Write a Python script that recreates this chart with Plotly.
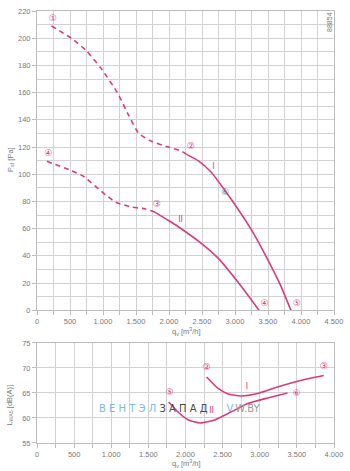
import plotly.graph_objects as go

# ---------------- data ----------------
# Top chart: pressure curves
q1_dash = [220, 520, 744, 968, 1217, 1392, 1542, 1741, 1991, 2190, 2265]
p1_dash = [209, 200, 191, 178, 160, 143, 130, 124, 120, 117, 114.6]
q1_solid = [2265, 2440, 2640, 2849, 3238, 3488, 3687, 3847]
p1_solid = [114.6, 110, 101.5, 88, 60, 38, 18.7, 0]

q2_dash = [150, 494, 693, 993, 1193, 1442, 1642, 1790]
p2_dash = [109.5, 103.2, 98.8, 86.7, 79.4, 75.8, 74.5, 72]
q2_solid = [1790, 2000, 2141, 2490, 2740, 3039, 3364]
p2_solid = [72, 65.8, 61.4, 49.2, 38.5, 21.1, 0]

# Bottom chart: sound power curves
l1_q = [2284, 2440, 2573, 2751, 2973, 3240, 3551, 3862]
l1_v = [68.2, 65.9, 64.8, 64.4, 64.9, 66.2, 67.5, 68.5]
l2_q = [1773, 1907, 2040, 2195, 2395, 2573, 2840, 3107, 3373]
l2_v = [63.2, 61.1, 59.6, 59.0, 59.6, 60.9, 62.9, 64.0, 65.0]

# Point markers (circled numbers) and curve labels
top_pts_text = ["①", "②", "③", "④", "④", "⑤"]
top_pts_q = [240, 2330, 1816, 170, 3448, 3937]
top_pts_p = [214, 120, 77.4, 115, 4.9, 4.9]
top_grey_text = ["⑥"]
top_grey_q = [2849]
top_grey_p = [86.7]
top_curve_text = ["I", "II"]
top_curve_q = [2675, 2175]
top_curve_p = [105, 66]

bot_pts_text = ["②", "③", "⑤", "⑥"]
bot_pts_q = [2284, 3862, 1786, 3497]
bot_pts_v = [70, 70.3, 65, 64.9]
bot_curve_text = ["I", "II"]
bot_curve_q = [2826, 2351]
bot_curve_v = [66.2, 61.3]

x_top_ticks = [0, 500, 1000, 1500, 2000, 2500, 3000, 3500, 4000, 4500]
x_top_labels = ["0", "500", "1.000", "1.500", "2.000", "2.500", "3.000", "3.500", "4.000", "4.500"]
x_bot_ticks = [0, 500, 1000, 1500, 2000, 2500, 3000, 3500, 4000]
x_bot_labels = ["0", "500", "1.000", "1.500", "2.000", "2.500", "3.000", "3.500", "4.000"]
y_top_ticks = list(range(0, 221, 20))
y_bot_ticks = [55, 60, 65, 70, 75]

# ---------------- style ----------------
PINK = "#db3a80"
GRID = "#d2d2d2"
TXT = "#7a7a7a"
FONT = "Liberation Sans, Arial, sans-serif"

fig = go.Figure()

def line(x, y, xa, ya, dash=None):
    fig.add_trace(go.Scatter(x=x, y=y, mode="lines", xaxis=xa, yaxis=ya,
                             line=dict(color=PINK, width=1.6, shape="spline",
                                       smoothing=0.5, dash=dash),
                             hoverinfo="skip", showlegend=False))

def texts(x, y, t, xa, ya, color, size):
    fig.add_trace(go.Scatter(x=x, y=y, text=t, mode="text", xaxis=xa, yaxis=ya,
                             textfont=dict(color=color, size=size, family="DejaVu Sans"),
                             hoverinfo="skip", showlegend=False))

line(q1_dash, p1_dash, "x", "y", dash="5px,4px")
line(q1_solid, p1_solid, "x", "y")
line(q2_dash, p2_dash, "x", "y", dash="5px,4px")
line(q2_solid, p2_solid, "x", "y")
texts(top_pts_q, top_pts_p, top_pts_text, "x", "y", PINK, 9)
texts(top_grey_q, top_grey_p, top_grey_text, "x", "y", "#777777", 9)
texts(top_curve_q, top_curve_p, top_curve_text, "x", "y", PINK, 8)

line(l1_q, l1_v, "x2", "y2")
line(l2_q, l2_v, "x2", "y2")
texts(bot_pts_q, bot_pts_v, bot_pts_text, "x2", "y2", PINK, 9)
texts(bot_curve_q, bot_curve_v, bot_curve_text, "x2", "y2", PINK, 8)

tickfont = dict(size=7.5, color=TXT, family=FONT)
common = dict(showgrid=True, gridcolor=GRID, gridwidth=1, showline=True,
              linecolor="#bdbdbd", linewidth=1, mirror=True, zeroline=False,
              ticks="outside", ticklen=4, tickcolor="#bdbdbd", tickfont=tickfont,
              fixedrange=True)

fig.update_layout(
    width=350, height=471,
    margin=dict(l=37, r=13, t=7, b=28),
    paper_bgcolor="white", plot_bgcolor="white",
    showlegend=False,
    xaxis=dict(domain=[0, 1], anchor="y", range=[0, 4500],
               tickmode="array", tickvals=x_top_ticks, ticktext=x_top_labels,
               minor=dict(dtick=250, showgrid=True, gridcolor=GRID,
                          ticks="outside", ticklen=4, tickcolor="#bdbdbd"),
               **common),
    yaxis=dict(domain=[0.3073, 1], anchor="x", range=[0, 220],
               tickmode="array", tickvals=y_top_ticks,
               minor=dict(dtick=10, showgrid=True, gridcolor=GRID),
               **common),
    xaxis2=dict(domain=[0, 1], anchor="y2", range=[0, 4000],
                tickmode="array", tickvals=x_bot_ticks, ticktext=x_bot_labels,
                minor=dict(dtick=250, showgrid=True, gridcolor=GRID,
                           ticks="outside", ticklen=4, tickcolor="#bdbdbd"),
                **common),
    yaxis2=dict(domain=[0, 0.2317], anchor="x2", range=[55, 75],
                tickmode="array", tickvals=y_bot_ticks,
                **common),
)

ann_font = dict(size=7.5, color=TXT, family=FONT)
def ann(x, y, text, font, angle=0):
    fig.add_annotation(xref="paper", yref="paper", x=x, y=y, text=text,
                       textangle=angle, showarrow=False, font=font,
                       xanchor="center", yanchor="middle")

ann(0.50, (443 - 330) / 436, "q<sub>v</sub> [m<sup>3</sup>/h]", ann_font)
ann(0.50, (443 - 464) / 436, "q<sub>v</sub> [m<sup>3</sup>/h]", ann_font)
ann((10 - 37) / 300, (443 - 157) / 436, "P<sub>sf</sub> [Pa]", ann_font, -90)
ann((10 - 37) / 300, (443 - 405) / 436, "L<sub>WA5</sub> [dB(A)]", ann_font, -90)
ann((332.5 - 37) / 300, (443 - 18.5) / 436, "88854",
    dict(size=7, color="#777777", family=FONT), -90)
ann((181 - 37) / 300, (443 - 408) / 436,
    "<span style='color:#7cbbe6'>В Е Н Т Э Л </span>"
    "<span style='color:#4a4a4a'>З А П А Д</span>"
    "<span style='color:#7cbbe6'>      V</span>"
    "<span style='color:#9a9a9a'>.W.BY</span>",
    dict(size=10, family="DejaVu Sans"))

fig.write_html("out.html")
